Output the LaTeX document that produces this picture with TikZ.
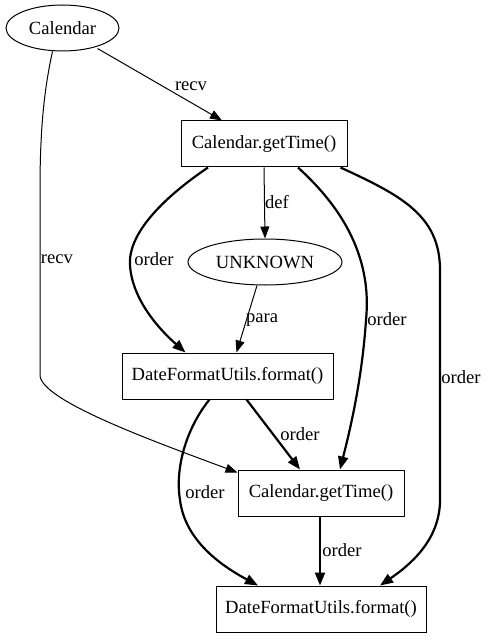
\documentclass[tikz,border=0pt]{standalone}
\usepackage{fontspec}
\setmainfont{Liberation Serif}
\usetikzlibrary{arrows.meta,shapes.geometric}
\begin{document}
\begin{tikzpicture}[x=1pt,y=-1pt,
  every node/.style={font=\rmfamily\fontsize{18.6}{21}\selectfont},
  ell/.style={draw,ellipse,line width=1pt,minimum width=#1,minimum height=46pt,inner sep=0pt},
  box/.style={draw,rectangle,line width=1pt,minimum height=46pt,inner sep=0pt,minimum width=#1},
  thin/.style={line width=1pt,-{Triangle[length=12pt,width=9pt]}},
  thick/.style={line width=2.2pt,-{Triangle[length=13pt,width=10pt]}},
  lab/.style={inner sep=0pt}]
\useasboundingbox (0,0) rectangle (488,639);
\node[ell=113pt] (cal) at (62.5,28) {Calendar};
\node[box=166pt] (gt1) at (264,144) {Calendar.getTime()};
\node[ell=154pt] (unk) at (265,262) {UNKNOWN};
\node[box=211pt] (df1) at (227.5,376) {DateFormatUtils.format()};
\node[box=166pt] (gt2) at (321,493) {Calendar.getTime()};
\node[box=210pt] (df2) at (321,609) {DateFormatUtils.format()};
% edges
\draw[thin] ([xshift=35pt]cal.south) ++(0,-3) coordinate (c1) (c1) -- ([xshift=-42pt]gt1.north);
\draw[thin] ([xshift=-10pt]cal.south) .. controls (44,90) and (40,130) .. (40,190) -- (40,375) .. controls (40,400) and (150,440) .. ([yshift=-3pt]gt2.north west);
\draw[thin] (gt1.south) -- (unk.north);
\draw[thin] ([xshift=-8pt]unk.south) -- ([xshift=9pt]df1.north);
\draw[thick] ([xshift=-56pt]gt1.south) .. controls (160,200) and (128,235) .. (130,265) .. controls (132,300) and (160,330) .. ([xshift=-42pt]df1.north);
\draw[thick] ([xshift=34pt]gt1.south) .. controls (345,210) and (372,260) .. (366,320) .. controls (362,380) and (350,430) .. ([xshift=19pt]gt2.north);
\draw[thick] ([xshift=-7pt]gt1.south east) .. controls (400,195) and (440,215) .. (440,270) -- (440,500) .. controls (440,540) and (410,565) .. ([xshift=59pt]df2.north);
\draw[thick] ([xshift=19pt]df1.south) -- ([xshift=-21pt]gt2.north);
\draw[thick] ([xshift=-18pt]df1.south) .. controls (185,430) and (175,470) .. (180,500) .. controls (185,540) and (220,565) .. ([xshift=-63pt]df2.north);
\draw[thick] ([xshift=-1pt]gt2.south) -- ([xshift=-1pt]df2.north);
% labels
\node[lab] (l1) at (191,86) {recv};
\node[lab] (l2) at (57,259) {recv};
\node[lab] (l3) at (277,202) {def};
\node[lab] (l4) at (154,259) {order};
\node[lab] (l5) at (262,320) {para};
\node[lab] (l6) at (387,319) {order};
\node[lab] (l7) at (461,377) {order};
\node[lab] (l8) at (300,434) {order};
\node[lab] (l9) at (205,492) {order};
\node[lab] (l10) at (342,550) {order};
\end{tikzpicture}
\end{document}
